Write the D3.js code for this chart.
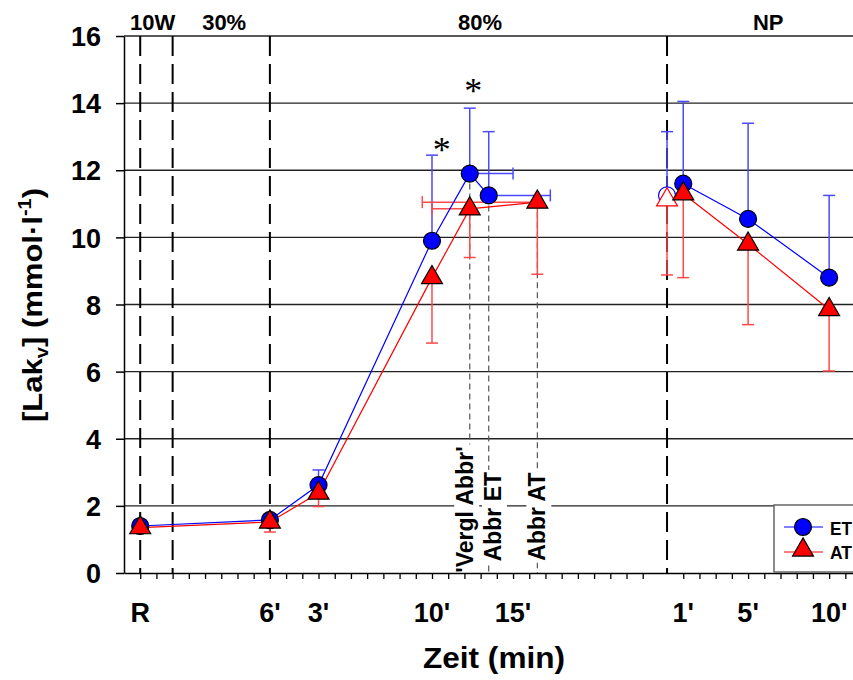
<!DOCTYPE html>
<html>
<head>
<meta charset="utf-8">
<script src="https://cdn.jsdelivr.net/npm/d3@7"></script>
<style>
  body { margin: 0; background: #fff; }
  svg { font-family: "Liberation Sans", Arial, Helvetica, sans-serif; font-weight: bold; }
</style>
</head>
<body>
<svg id="chart" width="853" height="680"></svg>
<script>
// x axis labels (positions in tick units, 1 unit = 1 min)
var xTickLabels = ["R", "6'", "3'", "10'", "15'", "1'", "5'", "10'"];
var xTickPos = [0, 8, 11, 18, 23, 33.5, 37.5, 42.5];
var yTicks = [0, 2, 4, 6, 8, 10, 12, 14, 16];

// phases on top
var phaseLabels = ["10W", "30%", "80%", "NP"];
var phasePos = [0.77, 5.18, 20.97, 38.74];
var phaseLines = [0, 2, 8, 32.5];

// ET (blue circles)
var etX = [0, 8, 11, 18, 20.33, 21.5];
var etY = [1.4, 1.58, 2.62, 9.9, 11.9, 11.25];
var etUp = [null, null, 3.07, 12.45, 13.85, 13.15];
var etRight = [null, null, null, null, 23.0, 25.3];
var etRecX = [33.5, 37.5, 42.5];
var etRecY = [11.6, 10.55, 8.8];
var etRecUp = [14.05, 13.4, 11.25];
var etOpenX = [32.5], etOpenY = [11.25], etOpenUp = [13.15];

// AT (red triangles)
var atX = [0, 8, 11, 18, 20.33, 24.5];
var atY = [1.35, 1.52, 2.38, 8.8, 10.85, 11.05];
var atDown = [null, 1.22, 1.98, 6.85, 9.4, 8.9];
var atLeft = [null, null, null, null, 18.0, 17.4];
var atRecX = [33.5, 37.5, 42.5];
var atRecY = [11.3, 9.8, 7.85];
var atRecDown = [8.8, 7.4, 6.02];
var atOpenX = [32.5], atOpenY = [11.12], atOpenDown = [8.88];

// termination markers
var annLabels = ["'Vergl Abbr'", "Abbr ET", "Abbr AT"];
var annX = [20.33, 21.5, 24.5];
var annTop = [11.9, 11.25, 11.05];
var annLabelX = [20.05, 21.76, 24.5];
var annLabelY = [1.89, 1.68, 1.68];

// significance stars
var starX = [18.6, 20.55];
var starY = [12.75, 14.5];

var svg = d3.select("#chart");
var x = d3.scaleLinear().domain([-1, 45]).range([124, 124 + 46 * 16.21]);
var y = d3.scaleLinear().domain([0, 16]).range([573, 36]);
var W = 853;

var blue = "#0000ff", red = "#ff0000";
var blueErr = "#4a4aff", redErr = "#ff4a4a";

// horizontal grid
svg.append("g").selectAll("line")
  .data(yTicks.slice(1))
  .enter().append("line")
  .attr("x1", x(-1)).attr("x2", W)
  .attr("y1", d => y(d)).attr("y2", d => y(d))
  .attr("stroke", "#222").attr("stroke-width", 1.3);

// phase separators
svg.append("g").selectAll("line")
  .data(phaseLines)
  .enter().append("line")
  .attr("x1", d => x(d)).attr("x2", d => x(d))
  .attr("y1", y(16)).attr("y2", y(0))
  .attr("stroke", "#000").attr("stroke-width", 2)
  .attr("stroke-dasharray", "20,8");

// termination lines
svg.append("g").selectAll("line")
  .data(annX)
  .enter().append("line")
  .attr("x1", d => x(d)).attr("x2", d => x(d))
  .attr("y1", (d, i) => y(annTop[i])).attr("y2", y(0))
  .attr("stroke", "#555").attr("stroke-width", 1.2)
  .attr("stroke-dasharray", "6,4");

// termination labels with white background
var lab = svg.append("g").selectAll("g")
  .data(annLabels)
  .enter().append("g")
  .attr("transform", (d, i) => "translate(" + (x(annLabelX[i]) + 8) + "," + y(annLabelY[i]) + ") rotate(-90)");
lab.append("text")
  .attr("text-anchor", "middle")
  .attr("font-size", 23)
  .text(d => d);
lab.each(function () {
  var g = d3.select(this);
  var len = g.select("text").node().getComputedTextLength();
  g.insert("rect", "text")
    .attr("x", -len / 2 - 2).attr("y", -19)
    .attr("width", len + 4).attr("height", 25)
    .attr("fill", "#fff");
});

// axes
var yAxis = svg.append("g")
  .attr("transform", "translate(" + x(-1) + ",0)")
  .call(d3.axisLeft(y).tickValues(yTicks).tickSize(8).tickSizeOuter(0).tickPadding(15));
yAxis.select(".domain").attr("stroke-width", 1.5);
yAxis.selectAll(".tick line").attr("stroke-width", 1.5);
yAxis.selectAll(".tick text")
  .attr("font-size", 27).attr("font-family", "Liberation Sans, Arial, sans-serif")
  .attr("font-weight", "bold").attr("dy", "0.36em");

var xTicks = d3.range(0, 32).concat(d3.range(33.5, 45));
var xAxis = svg.append("g")
  .attr("transform", "translate(0," + y(0) + ")")
  .call(d3.axisBottom(x).tickValues(xTicks).tickSize(6).tickSizeOuter(0).tickFormat(""));
xAxis.select(".domain").attr("stroke-width", 1.5);
xAxis.selectAll(".tick line").attr("stroke-width", 1.3);

svg.append("g").selectAll("text")
  .data(xTickLabels)
  .enter().append("text")
  .attr("x", (d, i) => x(xTickPos[i]))
  .attr("y", 622)
  .attr("text-anchor", "middle")
  .attr("font-size", 27)
  .text(d => d);

// phase labels
svg.append("g").selectAll("text")
  .data(phaseLabels)
  .enter().append("text")
  .attr("x", (d, i) => x(phasePos[i]))
  .attr("y", 30)
  .attr("text-anchor", "middle")
  .attr("font-size", 22)
  .text(d => d);

// axis titles
svg.append("text")
  .attr("x", 494).attr("y", 668)
  .attr("text-anchor", "middle")
  .attr("font-size", 29)
  .attr("textLength", 142).attr("lengthAdjust", "spacingAndGlyphs")
  .text("Zeit (min)");

var yt = svg.append("text")
  .attr("transform", "translate(42,305) rotate(-90)")
  .attr("text-anchor", "middle")
  .attr("font-size", 28)
  .attr("textLength", 234).attr("lengthAdjust", "spacingAndGlyphs");
yt.append("tspan").text("[Lak");
yt.append("tspan").attr("font-size", 18).attr("dy", 6).text("v");
yt.append("tspan").attr("dy", -6).text("] (mmol\u00b7l");
yt.append("tspan").attr("font-size", 18).attr("dy", -11).text("-1");
yt.append("tspan").attr("dy", 11).text(")");

// error bars
function vErr(g, xs, ys, ends, color) {
  xs.forEach(function (xv, i) {
    if (ends[i] == null) return;
    g.append("line")
      .attr("x1", x(xv)).attr("x2", x(xv))
      .attr("y1", y(ys[i])).attr("y2", y(ends[i]))
      .attr("stroke", color).attr("stroke-width", 1.5);
    g.append("line")
      .attr("x1", x(xv) - 6).attr("x2", x(xv) + 6)
      .attr("y1", y(ends[i])).attr("y2", y(ends[i]))
      .attr("stroke", color).attr("stroke-width", 1.5);
  });
}
function hErr(g, xs, ys, ends, color) {
  xs.forEach(function (xv, i) {
    if (ends[i] == null) return;
    g.append("line")
      .attr("x1", x(xv)).attr("x2", x(ends[i]))
      .attr("y1", y(ys[i])).attr("y2", y(ys[i]))
      .attr("stroke", color).attr("stroke-width", 1.5);
    g.append("line")
      .attr("x1", x(ends[i])).attr("x2", x(ends[i]))
      .attr("y1", y(ys[i]) - 6).attr("y2", y(ys[i]) + 6)
      .attr("stroke", color).attr("stroke-width", 1.5);
  });
}
var errG = svg.append("g");
vErr(errG, etX, etY, etUp, blueErr);
vErr(errG, etRecX, etRecY, etRecUp, blueErr);
vErr(errG, etOpenX, etOpenY, etOpenUp, blueErr);
hErr(errG, etX, etY, etRight, blueErr);
vErr(errG, atX, atY, atDown, redErr);
vErr(errG, atRecX, atRecY, atRecDown, redErr);
vErr(errG, atOpenX, atOpenY, atOpenDown, redErr);
hErr(errG, atX, atY, atLeft, redErr);

// lines
var line = d3.line().x(d => x(d[0])).y(d => y(d[1]));
function drawLine(xs, ys, color) {
  svg.append("path")
    .datum(xs.map((v, i) => [v, ys[i]]))
    .attr("d", line)
    .attr("fill", "none").attr("stroke", color).attr("stroke-width", 1.2);
}
drawLine(etX, etY, blue);
drawLine(etRecX, etRecY, blue);
drawLine(atX, atY, red);
drawLine(atRecX, atRecY, red);

// markers
var tri = d3.symbol().type(d3.symbolTriangle).size(190);
function circles(xs, ys, fill, stroke) {
  svg.append("g").selectAll("circle")
    .data(xs)
    .enter().append("circle")
    .attr("cx", d => x(d)).attr("cy", (d, i) => y(ys[i]))
    .attr("r", 8.5)
    .attr("fill", fill).attr("stroke", stroke).attr("stroke-width", 1.2);
}
function triangles(xs, ys, fill, stroke) {
  svg.append("g").selectAll("path")
    .data(xs)
    .enter().append("path")
    .attr("d", tri)
    .attr("transform", (d, i) => "translate(" + x(d) + "," + y(ys[i]) + ")")
    .attr("fill", fill).attr("stroke", stroke).attr("stroke-width", 1.2);
}
circles(etOpenX, etOpenY, "#fff", blue);
triangles(atOpenX, atOpenY, "#fff", red);
circles(etX, etY, blue, "#000");
circles(etRecX, etRecY, blue, "#000");
triangles(atX, atY, red, "#000");
triangles(atRecX, atRecY, red, "#000");

// stars
svg.append("g").selectAll("text")
  .data(starX)
  .enter().append("text")
  .attr("x", d => x(d)).attr("y", (d, i) => y(starY[i]) + 17)
  .attr("text-anchor", "middle")
  .attr("font-family", "Liberation Serif, Times New Roman, serif")
  .attr("font-weight", "normal")
  .attr("font-size", 36)
  .text("*");

// legend
var leg = svg.append("g");
leg.append("rect")
  .attr("x", 774).attr("y", 505).attr("width", 120).attr("height", 67)
  .attr("fill", "#fff").attr("stroke", "#666").attr("stroke-width", 1.5);
leg.append("line").attr("x1", 784).attr("x2", 823).attr("y1", 527).attr("y2", 527)
  .attr("stroke", blue).attr("stroke-width", 1.2);
leg.append("circle").attr("cx", 803).attr("cy", 527).attr("r", 8.5)
  .attr("fill", blue).attr("stroke", "#000").attr("stroke-width", 1.2);
leg.append("line").attr("x1", 784).attr("x2", 823).attr("y1", 552).attr("y2", 552)
  .attr("stroke", red).attr("stroke-width", 1.2);
leg.append("path").attr("d", tri).attr("transform", "translate(803,550)")
  .attr("fill", red).attr("stroke", "#000").attr("stroke-width", 1.2);
leg.append("text").attr("x", 830).attr("y", 535).attr("font-size", 19)
  .attr("textLength", 22).attr("lengthAdjust", "spacingAndGlyphs").text("ET");
leg.append("text").attr("x", 830).attr("y", 559).attr("font-size", 19)
  .attr("textLength", 22).attr("lengthAdjust", "spacingAndGlyphs").text("AT");
</script>
</body>
</html>
